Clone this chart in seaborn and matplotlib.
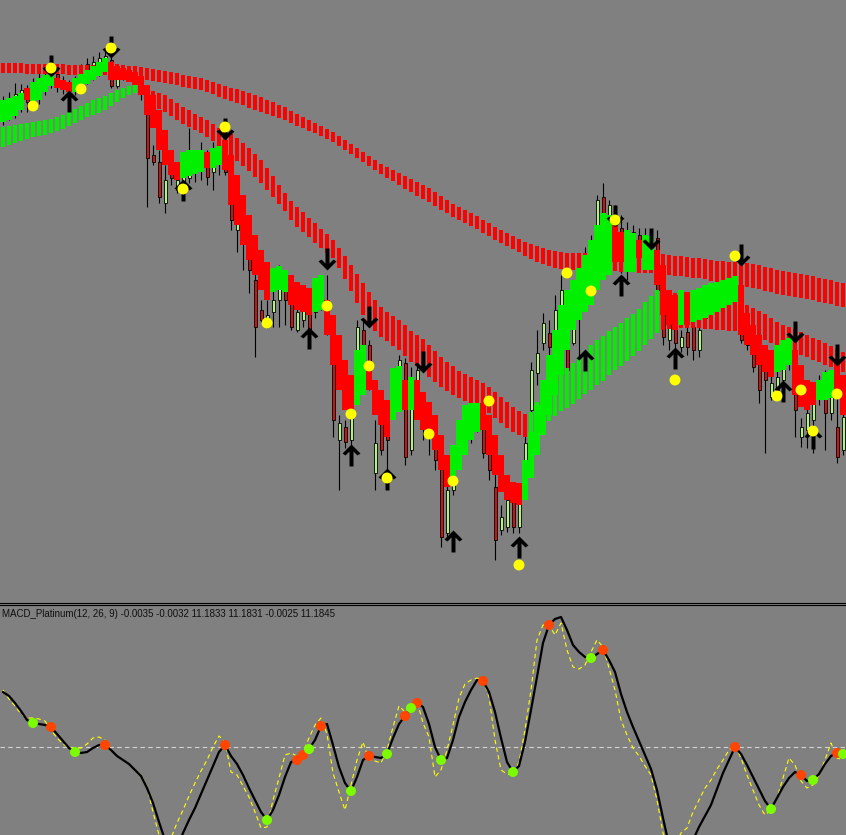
import numpy as np
import matplotlib
matplotlib.use("Agg")
import matplotlib.pyplot as plt
from matplotlib.path import Path
import seaborn as sns

# ==============================================================================
# Data. One value per bar, screen units (y grows downward).
# ==============================================================================

# slow ribbon (always red)
slow_top = [63, 63, 63, 63, 64, 64, 64, 64, 64, 64,
            64, 65, 65, 65, 65, 65, 65, 65, 64, 64,
            65, 66, 66, 67, 68, 69, 70, 71, 72, 73,
            75, 76, 77, 78, 80, 82, 84, 86, 88, 89,
            91, 93, 95, 97, 100, 102, 105, 107, 111, 114,
            117, 120, 123, 126, 129, 132, 136, 140, 144, 148,
            152, 156, 160, 164, 167, 170, 173, 176, 179, 182,
            185, 188, 192, 196, 200, 204, 207, 210, 213, 216,
            220, 223, 227, 230, 233, 236, 239, 242, 244, 246,
            248, 250, 251, 252, 253, 253, 253, 253, 253, 253,
            253, 253, 253, 253, 252, 252, 252, 252, 252, 253,
            254, 255, 256, 256, 257, 258, 258, 259, 260, 261,
            261, 262, 262, 263, 263, 264, 265, 267, 268, 270,
            271, 272, 273, 274, 275, 276, 278, 279, 280, 282,
            283]
slow_bot = [73, 73, 73, 73, 74, 74, 74, 74, 74, 74,
            74, 75, 75, 75, 75, 75, 75, 75, 75, 75,
            76, 77, 78, 79, 80, 81, 82, 83, 84, 85,
            87, 88, 89, 90, 92, 94, 97, 99, 101, 103,
            105, 108, 110, 112, 114, 116, 118, 120, 123, 126,
            128, 131, 133, 136, 139, 142, 146, 150, 154, 158,
            162, 166, 170, 174, 178, 181, 185, 189, 192, 196,
            199, 202, 206, 210, 213, 217, 220, 223, 226, 229,
            233, 236, 240, 243, 246, 249, 252, 256, 259, 262,
            264, 266, 268, 269, 270, 270, 270, 270, 270, 270,
            271, 271, 271, 272, 272, 272, 273, 273, 273, 274,
            274, 275, 276, 276, 277, 278, 278, 279, 281, 282,
            283, 284, 285, 286, 287, 288, 289, 291, 292, 294,
            295, 296, 297, 298, 299, 300, 302, 303, 304, 306,
            307]

# medium ribbon
mid_top = [127, 126, 125, 124, 123, 122, 121, 120, 119, 117,
           115, 112, 109, 106, 103, 100, 98, 96, 93, 90,
           88, 86, 84, 83, 88, 91, 93, 95, 99, 103,
           107, 110, 114, 117, 120, 124, 128, 131, 134, 138,
           143, 148, 154, 160, 168, 176, 185, 193, 201, 207,
           212, 218, 223, 229, 234, 240, 248, 256, 265, 274,
           283, 292, 300, 307, 312, 316, 320, 325, 331, 335,
           339, 345, 351, 357, 362, 366, 371, 374, 377, 380,
           383, 387, 392, 397, 402, 407, 411, 414, 412, 402,
           393, 385, 378, 372, 368, 363, 357, 351, 345, 340,
           336, 331, 327, 323, 318, 314, 309, 302, 296, 290,
           291, 292, 293, 293, 294, 295, 295, 296, 297, 298,
           299, 300, 301, 302, 305, 308, 311, 314, 318, 322,
           325, 327, 329, 332, 335, 338, 340, 343, 346, 349,
           352]
mid_bot = [147, 145, 143, 141, 139, 137, 136, 135, 133, 131,
           129, 126, 123, 120, 117, 115, 113, 110, 106, 102,
           98, 95, 93, 92, 104, 107, 109, 112, 116, 120,
           124, 127, 130, 133, 137, 141, 146, 151, 156, 161,
           166, 171, 177, 183, 190, 197, 204, 211, 220, 227,
           232, 237, 243, 248, 253, 258, 268, 279, 291, 303,
           315, 324, 331, 337, 341, 346, 350, 356, 362, 366,
           371, 377, 382, 387, 391, 395, 398, 401, 403, 406,
           409, 413, 418, 423, 428, 432, 435, 437, 438, 432,
           427, 421, 416, 411, 408, 404, 399, 394, 390, 385,
           381, 375, 370, 366, 361, 356, 351, 345, 339, 333,
           330, 329, 328, 328, 328, 328, 328, 329, 329, 330,
           330, 331, 331, 332, 334, 336, 338, 340, 343, 346,
           348, 350, 352, 355, 357, 360, 362, 365, 367, 370,
           372]
mid_col = ("gggggggggg" "gggggggggg" "ggggrrrrrr" "rrrrrrrrrr" "rrrrrrrrrr"
           "rrrrrrrrrr" "rrrrrrrrrr" "rrrrrrrrrr" "rrrrrrrrgg" "gggggggggg"
           "gggggggggg" "rrrrrrrrrr" "rrrrrrrrrr" "rrrrrrrrrr" "r")

# fast ribbon
fast_top = [100, 98, 96, 93, 88, 82, 78, 75, 72, 78,
            80, 82, 78, 74, 70, 66, 62, 58, 62, 66,
            68, 70, 72, 76, 85, 95, 110, 130, 150, 162,
            152, 150, 150, 150, 152, 148, 146, 140, 155, 175,
            195, 215, 235, 250, 262, 268, 266, 270, 275, 282,
            285, 288, 278, 275, 300, 315, 335, 360, 375, 350,
            345, 365, 380, 390, 400, 368, 366, 380, 377, 380,
            392, 402, 415, 435, 455, 445, 420, 405, 403, 403,
            403, 415, 435, 455, 475, 482, 483, 460, 432, 405,
            380, 355, 330, 305, 290, 280, 268, 255, 240, 225,
            213, 215, 225, 232, 230, 233, 240, 235, 236, 250,
            265, 290, 295, 290, 292, 290, 288, 285, 283, 282,
            280, 278, 276, 285, 313, 325, 335, 345, 350, 345,
            340, 338, 350, 365, 380, 382, 380, 372, 370, 362,
            375]
fast_bot = [122, 120, 116, 110, 100, 105, 100, 92, 86, 88,
            90, 92, 92, 88, 84, 80, 76, 72, 80, 80,
            80, 82, 85, 95, 115, 128, 150, 165, 175, 180,
            178, 176, 174, 172, 168, 168, 165, 170, 205, 225,
            245, 260, 275, 290, 300, 292, 290, 292, 305, 310,
            312, 315, 312, 310, 335, 365, 390, 410, 415, 405,
            395, 390, 415, 425, 437, 420, 412, 410, 410, 420,
            430, 438, 450, 470, 487, 482, 470, 455, 440, 432,
            430, 455, 475, 492, 500, 503, 505, 500, 478, 455,
            435, 415, 395, 375, 350, 330, 320, 312, 305, 290,
            280, 275, 262, 262, 272, 272, 258, 270, 270, 285,
            315, 325, 330, 325, 325, 322, 320, 318, 315, 312,
            308, 305, 302, 335, 345, 355, 365, 372, 377, 372,
            370, 365, 395, 407, 410, 405, 400, 400, 398, 395,
            415]
fast_col = ("ggggrggggr" "rrggggggrr" "rrrrrrrrrr" "ggggrggrrr" "rrrrrgggrr"
            "rrggrrrrrg" "grrrrggrgr" "rrrrrggggg" "rrrrrrrggg" "gggggggggg"
            "ggrrggrggr" "rrrgrggggg" "gggrrrrrrg" "ggrrrrgggr" "r")

# candles
c_open = [112, 108, 102, 96, 92, 100, 92, 84, 78, 74,
          84, 86, 90, 82, 72, 68, 64, 60, 60, 86,
          76, 74, 76, 78, 100, 155, 162, 203, 172, 190,
          188, 178, 172, 168, 153, 172, 162, 146, 170, 230,
          243, 227, 280, 310, 327, 312, 300, 280, 300, 330,
          320, 313, 312, 305, 300, 330, 440, 427, 440, 383,
          330, 345, 473, 423, 430, 407, 383, 363, 450, 407,
          410, 427, 430, 467, 533, 490, 455, 440, 427, 405,
          407, 437, 487, 530, 527, 497, 527, 470, 410, 373,
          343, 333, 335, 310, 333, 343, 318, 300, 275, 240,
          197, 220, 215, 228, 262, 250, 235, 250, 245, 238,
          313, 340, 317, 347, 332, 327, 350, 318, 305, 300,
          295, 285, 290, 313, 340, 350, 357, 365, 397, 390,
          380, 362, 363, 437, 430, 420, 395, 377, 413, 427,
          450]
c_close = [100, 98, 94, 90, 102, 84, 80, 76, 72, 86,
           88, 90, 80, 76, 64, 62, 58, 56, 86, 77,
           72, 76, 78, 88, 158, 162, 197, 180, 178, 180,
           175, 168, 165, 160, 177, 158, 150, 172, 220, 220,
           213, 270, 327, 320, 315, 300, 280, 300, 327, 312,
           305, 333, 300, 295, 326, 420, 423, 442, 418, 327,
           345, 380, 443, 450, 440, 383, 360, 457, 380, 370,
           427, 433, 460, 537, 490, 470, 430, 415, 410, 415,
           453, 470, 540, 517, 500, 527, 497, 443, 370, 353,
           323, 347, 310, 290, 370, 317, 290, 260, 250, 200,
           220, 205, 235, 240, 230, 232, 255, 235, 238, 290,
           337, 313, 343, 337, 347, 350, 330, 305, 295, 290,
           285, 295, 282, 340, 345, 367, 390, 380, 383, 377,
           360, 350, 410, 427, 413, 395, 383, 413, 395, 457,
           417]
c_high = [96, 92, 83, 84, 85, 78, 72, 70, 66, 70,
          76, 80, 76, 64, 58, 56, 52, 50, 45, 74,
          70, 70, 72, 75, 96, 145, 150, 165, 165, 170,
          163, 128, 150, 142, 150, 142, 142, 140, 165, 210,
          208, 220, 265, 300, 300, 270, 265, 270, 285, 305,
          300, 302, 295, 275, 275, 322, 415, 420, 410, 320,
          318, 340, 420, 400, 420, 370, 355, 358, 367, 365,
          400, 420, 425, 455, 480, 455, 420, 405, 400, 398,
          400, 420, 470, 505, 495, 490, 490, 430, 362, 330,
          313, 320, 295, 275, 320, 300, 280, 247, 235, 195,
          183, 200, 205, 215, 222, 225, 228, 228, 232, 230,
          290, 305, 310, 330, 325, 315, 320, 295, 285, 280,
          275, 278, 268, 300, 330, 340, 352, 353, 375, 370,
          340, 335, 355, 418, 405, 385, 375, 370, 385, 395,
          405]
c_low = [125, 120, 118, 112, 112, 108, 104, 95, 88, 92,
         94, 96, 95, 90, 84, 80, 76, 72, 88, 88,
         80, 80, 82, 100, 207, 165, 203, 213, 185, 193,
         195, 183, 182, 180, 185, 190, 175, 175, 230, 252,
         270, 293, 357, 322, 328, 327, 327, 325, 330, 332,
         327, 335, 318, 310, 335, 437, 490, 448, 445, 390,
         350, 390, 490, 455, 478, 412, 390, 465, 455, 410,
         440, 455, 470, 547, 540, 495, 447, 445, 443, 432,
         458, 480, 560, 535, 532, 533, 533, 478, 440, 385,
         350, 355, 345, 315, 375, 345, 362, 310, 285, 250,
         230, 235, 255, 273, 280, 265, 265, 260, 258, 300,
         345, 350, 350, 352, 355, 360, 357, 325, 315, 310,
         305, 300, 300, 343, 350, 372, 403, 453, 400, 397,
         390, 370, 437, 447, 448, 453, 405, 450, 420, 463,
         455]

# signal markers on the price panel: bar index and level
dot_bar = [5, 8, 13, 18, 30, 37, 44, 54, 61, 58, 64, 71,
           75, 81, 86, 94, 98, 102, 122, 112, 129, 133, 135, 139]
dot_lvl = [106, 68, 89, 48, 189, 127, 323, 306, 366, 414, 478, 434,
           481, 401, 565, 273, 291, 220, 256, 380, 396, 390, 431, 394]
up_bar = [11, 30, 51, 58, 64, 75, 86, 97, 103, 112, 130, 135]
up_lvl = [101, 190, 338, 455, 479, 541, 547, 360, 285, 358, 391, 438]
dn_bar = [18, 8, 37, 54, 61, 70, 102, 108, 123, 132, 139]
dn_lvl = [47, 66, 129, 259, 317, 362, 216, 239, 255, 332, 355]

# MACD panel (same bars), zero line at 747
macd = [692, 696, 703, 711, 720, 723, 724, 725, 727, 734,
        741, 748, 752, 753, 752, 748, 745, 745, 750, 756,
        760, 764, 770, 776, 788, 803, 822, 840, 852, 848,
        833, 820, 808, 794, 780, 766, 752, 745, 756, 764,
        775, 788, 800, 812, 820, 810, 795, 777, 762, 760,
        755, 749, 740, 726, 724, 745, 767, 783, 791, 777,
        760, 756, 757, 758, 754, 738, 724, 716, 708, 703,
        707, 724, 747, 760, 758, 740, 717, 702, 690, 680,
        681, 692, 712, 738, 762, 772, 766, 742, 710, 677,
        643, 625, 619, 617, 630, 645, 652, 657, 658, 654,
        650, 660, 672, 694, 712, 727, 741, 755, 769, 790,
        818, 845, 862, 865, 855, 840, 827, 816, 805, 789,
        773, 760, 747, 754, 765, 777, 789, 801, 809, 798,
        787, 778, 772, 775, 781, 780, 774, 764, 756, 753,
        754]
signal = [690, 699, 706, 714, 718, 718, 719, 721, 730, 738,
          744, 748, 748, 748, 744, 738, 737, 740, 750, 756,
          760, 764, 770, 775, 787, 812, 835, 845, 838, 823,
          810, 796, 783, 771, 760, 747, 736, 742, 772, 775,
          786, 797, 812, 828, 827, 800, 778, 755, 753, 756,
          752, 738, 725, 718, 734, 773, 792, 810, 785, 760,
          742, 760, 761, 763, 750, 727, 706, 712, 705, 701,
          723, 737, 777, 770, 750, 725, 698, 684, 680, 678,
          680, 697, 740, 770, 774, 775, 762, 730, 690, 640,
          625, 625, 635, 623, 650, 667, 669, 665, 652, 640,
          647, 668, 690, 720, 735, 748, 756, 766, 775, 800,
          833, 850, 845, 833, 828, 812, 800, 788, 780, 769,
          760, 750, 745, 758, 775, 790, 805, 815, 810, 798,
          778, 758, 765, 781, 788, 785, 775, 760, 743, 758,
          760]
red_dot_bar = [8, 17, 37, 49, 50, 53, 61, 67, 69, 80, 91, 100, 122, 133, 139]
green_dot_bar = [5, 12, 44, 51, 58, 64, 68, 73, 85, 98, 128, 135, 140]
zero_level = 747
title = "MACD_Platinum(12, 26, 9) -0.0035 -0.0032 11.1833 11.1831 -0.0025 11.1845"

# ==============================================================================
# Style
# ==============================================================================
BG = "#808080"
RED = "#ff0000"
GREEN = "#00f000"
sns.set_theme(style="white", rc={"axes.facecolor": BG, "figure.facecolor": BG})
plt.rcParams["font.family"] = ["Liberation Sans", "DejaVu Sans"]

bars = np.arange(len(slow_top))
W, H = 846.0, 835.0

fig = plt.figure(figsize=(W / 100, H / 100), dpi=100)
ax = fig.add_axes([0, 1 - 602.5 / H, 1, 602.5 / H])
ax2 = fig.add_axes([0, 0, 1, 230.5 / H])

# ---- candles (under the ribbons) ----
o = np.array(c_open)
c = np.array(c_close)
ax.vlines(bars, c_high, c_low, color="black", lw=0.8, zorder=2)
body_col = ["#b4f084" if cc < oo else "#c81414" for oo, cc in zip(o, c)]
ax.bar(bars, np.maximum(np.abs(c - o), 1), bottom=np.minimum(o, c), width=0.5,
       color=body_col, edgecolor="black", linewidth=0.6, zorder=2.5)

# ---- ribbons (striped histograms, hard pixel edges) ----
ax.bar(bars, np.array(slow_bot) - np.array(slow_top), bottom=slow_top, width=0.74,
       color=RED, linewidth=0, antialiased=False, zorder=3)
ax.bar(bars, np.array(mid_bot) - np.array(mid_top), bottom=mid_top, width=0.74,
       color=[RED if k == "r" else GREEN for k in mid_col], linewidth=0,
       antialiased=False, zorder=4)
ax.bar(bars, np.array(fast_bot) - np.array(fast_top), bottom=fast_top, width=1.0,
       color=[RED if k == "r" else GREEN for k in fast_col], linewidth=0,
       antialiased=False, zorder=5)

# ---- arrows and dots ----
up_path = Path([(0, 11), (9, 2), (6, 0), (2, 4), (2, -11), (-2, -11), (-2, 4),
                (-6, 0), (-9, 2), (0, 11)],
               [Path.MOVETO] + [Path.LINETO] * 8 + [Path.CLOSEPOLY])
dn_path = Path(up_path.vertices * np.array([1, -1]), up_path.codes)
ax.scatter(up_bar, up_lvl, marker=up_path, s=250, color="black", linewidths=0, zorder=6)
ax.scatter(dn_bar, dn_lvl, marker=dn_path, s=250, color="black", linewidths=0, zorder=6)
sns.scatterplot(x=dot_bar, y=dot_lvl, s=62, color="#ffff00", edgecolor="none",
                linewidth=0, zorder=7, legend=False, ax=ax)

ax.set_xlim(-0.5, len(bars) - 0.5)
ax.set_ylim(602.5, 0)

# ---- MACD panel ----
macd_arr = np.array(macd)
ax2.axhline(zero_level, color="#d4d4d4", lw=0.8, ls=(0, (4, 3)), zorder=1)
sns.lineplot(x=bars, y=signal, color="#ffff00", lw=0.8, linestyle=(0, (4, 3)),
             zorder=3, ax=ax2)
sns.lineplot(x=bars, y=macd, color="black", lw=1.6, zorder=4, ax=ax2)
sns.scatterplot(x=red_dot_bar, y=macd_arr[red_dot_bar], s=52, color="#ff4500",
                edgecolor="none", linewidth=0, zorder=5, legend=False, ax=ax2)
sns.scatterplot(x=green_dot_bar, y=macd_arr[green_dot_bar], s=52, color="#7cfc00",
                edgecolor="none", linewidth=0, zorder=5, legend=False, ax=ax2)
ax2.set_xlim(-0.5, len(bars) - 0.5)
ax2.set_ylim(835, 604.5)

fig.text(1.5 / W, 1 - 617 / H, title, fontsize=7, color="#101010",
         ha="left", va="baseline")

# ---- frame: only the double separator line ----
for a in (ax, ax2):
    a.set_xticks([])
    a.set_yticks([])
    a.set_xlabel("")
    a.set_ylabel("")
    for s in a.spines.values():
        s.set_visible(False)
ax.spines["bottom"].set_visible(True)
ax.spines["bottom"].set_color("black")
ax.spines["bottom"].set_linewidth(0.8)
ax2.spines["top"].set_visible(True)
ax2.spines["top"].set_color("black")
ax2.spines["top"].set_linewidth(0.8)

fig.savefig("out.png", dpi=100, facecolor=BG)
